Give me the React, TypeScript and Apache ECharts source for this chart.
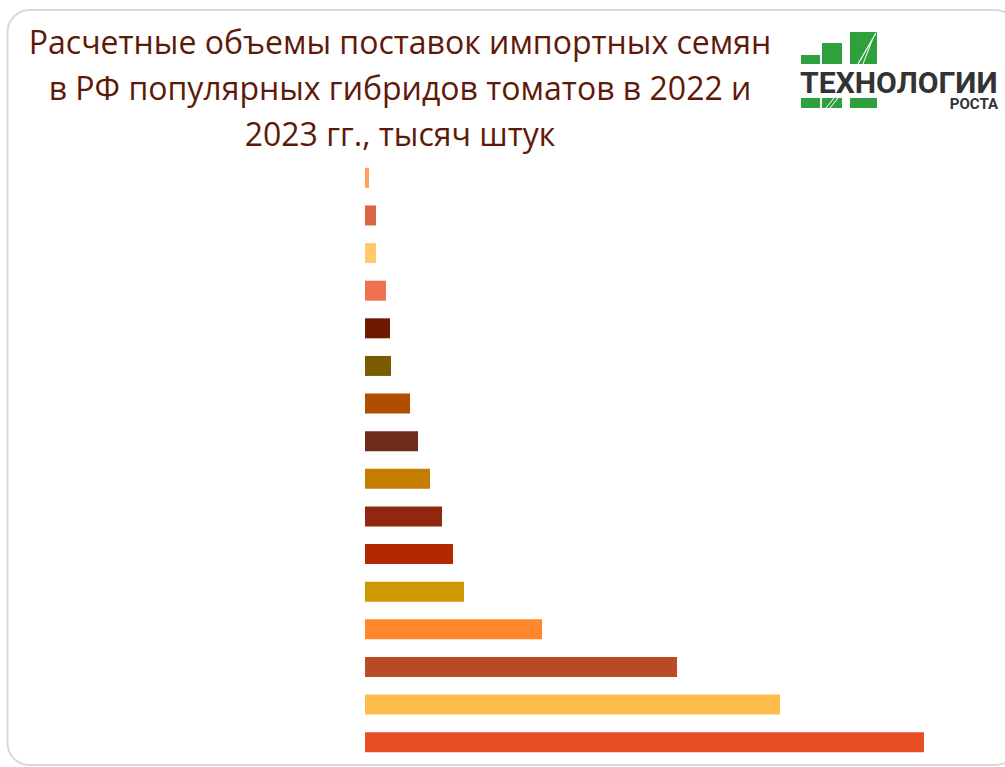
import React, { useEffect, useRef } from "react";
import * as echarts from "echarts";

const categories = [
  "Гибрид 1", "Гибрид 2", "Гибрид 3", "Гибрид 4", "Гибрид 5", "Гибрид 6", "Гибрид 7", "Гибрид 8",
  "Гибрид 9", "Гибрид 10", "Гибрид 11", "Гибрид 12", "Гибрид 13", "Гибрид 14", "Гибрид 15", "Гибрид 16",
];
const values = [40, 110, 110, 210, 250, 260, 450, 530, 650, 770, 880, 990, 1770, 3120, 4150, 5590];
const barColors = [
  "#FFA05A", "#D96542", "#FFCA6E", "#EE7151", "#6E1900", "#7A5C00", "#B04E00", "#6E2C1A",
  "#C57D00", "#902811", "#B42800", "#CD9800", "#FF862A", "#B84A26", "#FFBC4A", "#E84D24",
];
const titleLines = [
  "Расчетные объемы поставок импортных семян",
  "в РФ популярных гибридов томатов в 2022 и",
  "2023 гг., тысяч штук",
];

export default function App() {
  const ref = useRef<HTMLDivElement>(null);
  useEffect(() => {
    if (!ref.current) return;
    const chart = echarts.init(ref.current, null, { renderer: "svg" });
    const green = "#2EA03E";
    const graphic: any[] = [
      {
        type: "rect",
        shape: { x: 7.5, y: 10, width: 1010, height: 755, r: 22 },
        style: { fill: "none", stroke: "#D9D9D9", lineWidth: 2 },
        silent: true,
      },
      ...titleLines.map((t, i) => ({
        type: "text",
        x: 400,
        y: 57 + i * 46,
        style: {
          text: t,
          fill: "#5E1A08",
          font: "32px 'Open Sans', sans-serif",
          textAlign: "center",
          textVerticalAlign: "bottom",
        },
      })),
      // logo squares
      { type: "rect", shape: { x: 801, y: 55, width: 19, height: 9 }, style: { fill: green } },
      { type: "rect", shape: { x: 822, y: 43, width: 20, height: 21 }, style: { fill: green } },
      { type: "rect", shape: { x: 850, y: 32, width: 27, height: 32 }, style: { fill: green } },
      { type: "rect", shape: { x: 801, y: 98, width: 19, height: 10 }, style: { fill: green } },
      { type: "rect", shape: { x: 822, y: 98, width: 20, height: 10 }, style: { fill: green } },
      { type: "rect", shape: { x: 850, y: 98, width: 27, height: 10 }, style: { fill: green } },
      { type: "line", shape: { x1: 858, y1: 64, x2: 876, y2: 33 }, style: { stroke: "#fff", lineWidth: 1.2 } },
      { type: "line", shape: { x1: 863, y1: 64, x2: 873, y2: 38 }, style: { stroke: "#fff", lineWidth: 1 } },
      { type: "line", shape: { x1: 826, y1: 108, x2: 834, y2: 98 }, style: { stroke: "#fff", lineWidth: 1 } },
      { type: "line", shape: { x1: 830, y1: 108, x2: 838, y2: 98 }, style: { stroke: "#fff", lineWidth: 1 } },
      {
        type: "text",
        x: 800,
        y: 98,
        scaleX: 1.04,
        style: {
          text: "ТЕХНОЛОГИИ",
          fill: "#333333",
          font: "bold 29px Roboto, sans-serif",
          textVerticalAlign: "bottom",
        },
      },
      {
        type: "text",
        x: 998,
        y: 111,
        style: {
          text: "РОСТА",
          fill: "#333333",
          font: "bold 15px Roboto, sans-serif",
          textAlign: "right",
          textVerticalAlign: "bottom",
        },
      },
    ];
    chart.setOption({
      animation: false,
      backgroundColor: "#ffffff",
      grid: { left: 365, top: 159, right: 40, bottom: 6, containLabel: false },
      xAxis: {
        type: "value",
        min: 0,
        max: 6000,
        show: false,
      },
      yAxis: {
        type: "category",
        data: categories,
        inverse: true,
        axisLine: { show: false },
        axisTick: { show: false },
        axisLabel: { show: false },
      },
      series: [
        {
          type: "bar",
          data: values.map((v, i) => ({ value: v, itemStyle: { color: barColors[i] } })),
          barWidth: 20,
        },
      ],
      graphic,
    });
    return () => chart.dispose();
  }, []);
  return (
    <div
      ref={ref}
      style={{ position: "fixed", left: 0, top: 0, width: 1005, height: 767 }}
    />
  );
}
